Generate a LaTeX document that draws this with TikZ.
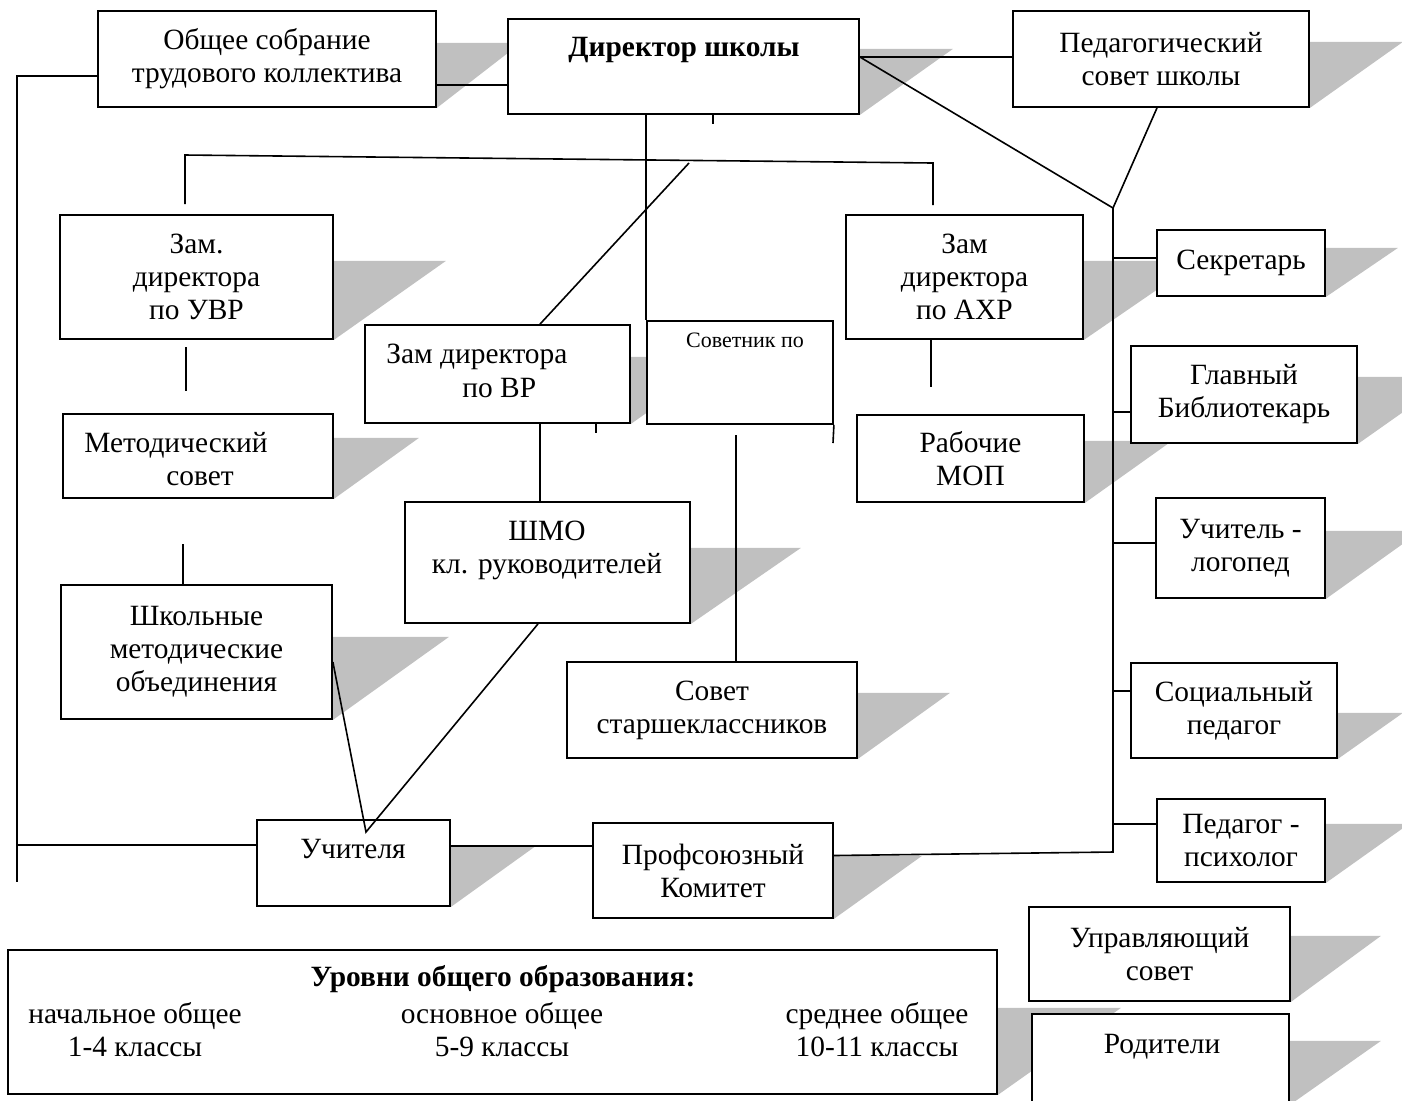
\documentclass[tikz,border=0pt]{standalone}
\usepackage{fontspec}
\setmainfont{Liberation Serif}
\usetikzlibrary{backgrounds}
\definecolor{shadegray}{RGB}{192,192,192}
\newcommand{\orgfont}{\fontsize{14.7}{16.5}\selectfont}
% grey wedge to the right of a box: name, height, width
\newcommand{\boxshade}[3]{\fill[shadegray] (#1.south east) -- ++(0,-#2) -- ++(#3,0) -- cycle;}

\begin{document}
\begin{tikzpicture}[x=0.5pt, y=-0.5pt,
	box/.style={draw, fill=white, line width=0.9pt, inner sep=0pt, align=center, font=\orgfont},
	boxsize/.style 2 args={minimum width=#1pt, minimum height=#2pt},
	lbl/.style={inner sep=0pt, font=\orgfont},
	link/.style={line width=0.8pt}
	]
	\useasboundingbox (0,0) rectangle (1402,1100);
	
	% top row
	\node[box, boxsize={169}{48}] (obsh) at (267,59) {Общее собрание\\трудового коллектива};
	\node[box, boxsize={175.5}{47.5}] (dir) at (683.5,66.5) {};
	\node[lbl, anchor=base] (dirt) at (684,56) {\bfseries Директор школы};
	\node[box, boxsize={148}{48}] (ped) at (1161,59) {Педагогический\\совет школы};
	
	% deputies
	\node[box, boxsize={136.5}{62}] (uvr) at (196.5,277) {Зам.\\директора\\по УВР};
	\node[box, boxsize={118.5}{62}] (ahr) at (964.5,277) {Зам\\директора\\по АХР};
	\node[box, boxsize={132.5}{49}] (vr) at (497.5,374) {};
	\node[lbl, anchor=base west] (vrt1) at (386,363) {Зам директора};
	\node[lbl, anchor=base west] (vrt2) at (462,397) {по ВР};
	\node[box, boxsize={93}{51.5}] (sov) at (740,372.5) {};
	\node[lbl, anchor=base, font=\fontsize{11}{13}\selectfont] (sovt) at (745,347) {Советник по};
	
	% middle
	\node[box, boxsize={135}{42}] (met) at (198,456) {};
	\node[lbl, anchor=base west] (mett1) at (84,452) {Методический};
	\node[lbl, anchor=base west] (mett2) at (166,485) {совет};
	\node[box, boxsize={142.5}{60.5}] (shmo) at (547.5,562.5) {};
	\node[lbl, anchor=base] (shmot1) at (547,540) {ШМО};
	\node[lbl, anchor=base] (shmot2) at (547,573) {кл. руководителей};
	\node[box, boxsize={135.5}{67}] (smo) at (196.5,652) {Школьные\\методические\\объединения};
	\node[box, boxsize={113.5}{43.5}] (rab) at (970.5,458.5) {Рабочие\\МОП};
	\node[box, boxsize={145}{48}] (sst) at (712,710) {Совет\\старшеклассников};
	\node[box, boxsize={96.5}{43}] (uch) at (353.5,863) {};
	\node[lbl, anchor=base] (ucht) at (353,858) {Учителя};
	\node[box, boxsize={120}{47.5}] (prof) at (713,870.5) {Профсоюзный\\Комитет};
	
	% right column
	\node[box, boxsize={84}{33}] (sekr) at (1241,263) {Секретарь};
	\node[box, boxsize={113}{48.5}] (glav) at (1244,394.5) {Главный\\Библиотекарь};
	\node[box, boxsize={84.5}{50}] (logo) at (1240.5,548) {Учитель -\\логопед};
	\node[box, boxsize={103}{47.5}] (socp) at (1234,710.5) {Социальный\\педагог};
	\node[box, boxsize={84}{41.5}] (psy) at (1241,840.5) {Педагог -\\психолог};
	\node[box, boxsize={130.5}{47}] (upr) at (1159.5,954) {Управляющий\\совет};
	\node[box, boxsize={128.5}{45}] (rod) at (1160.5,1059) {};
	\node[lbl, anchor=base] (rodt) at (1162,1053) {Родители};
	
	% levels
	\node[box, boxsize={494.5}{72}] (urov) at (502.5,1022) {};
	\node[lbl, anchor=base] (urovt) at (503,986) {\bfseries Уровни общего образования:};
	\foreach \x/\a/\b [count=\i] in {135/начальное общее/1-4 классы, 502/основное общее/5-9 классы, 877/среднее общее/10-11 классы} {
		\node[lbl, anchor=base] (lev\i a) at (\x,1023) {\a};
		\node[lbl, anchor=base] (lev\i b) at (\x,1056) {\b};
	}
	
	% shadows
	\begin{pgfonlayer}{background}
		\foreach \n/\h/\w in {obsh/65/84, dir/66/93, ped/66/93, uvr/79/112, ahr/79/115, vr/67/95,
			met/61/85, shmo/76/110, smo/83/116, rab/62/87, sst/66/92, uch/61/85, prof/63/88,
			sekr/49/72, glav/67/95, logo/68/95, socp/46/65, psy/59/83, upr/66/90, rod/64/91, urov/87/123}
		{\boxshade{\n}{\h}{\w}}
	\end{pgfonlayer}
	
	% left bus
	\coordinate (lt) at (17,76);
	\coordinate (lm) at (17,845);
	\coordinate (lb) at (17,882);
	\draw[link] (obsh.west |- lt) -- (lt) -- (lb);
	\draw[link] (lm) -- (lm -| uch.west);
	
	% top links
	\coordinate (od) at (470,85);
	\coordinate (dp) at (930,57);
	\draw[link] (obsh.east |- od) -- (dir.west |- od);
	\draw[link] (dir.east |- dp) -- (ped.west |- dp);
	\coordinate (J) at (1113,208);
	\coordinate (rb) at (1113,852);
	\draw[link] (dir.east |- dp) -- (J);
	\draw[link] ([xshift=-2pt]ped.south) -- (J) -- (rb) -- ([yshift=7.5pt]prof.east);
	\foreach \n/\y in {sekr/258, glav/412, logo/543, socp/691, psy/824} {
		\coordinate (b\n) at (1113,\y);
		\draw[link] (b\n) -- (b\n -| \n.west);
	}
	
	% director down
	\coordinate (tk) at (713,124);
	\draw[link] (sov.north west |- dir.south) -- (sov.north west);
	\draw[link] (tk |- dir.south) -- (tk);
	\coordinate (tl) at (185,155);
	\coordinate (tr) at (933,163);
	\coordinate (tld) at (185,204);
	\coordinate (trd) at (933,205);
	\draw[link] (tld) -- (tl) -- (tr) -- (trd);
	\coordinate (dg) at (689,163);
	\draw[link] (dg) -- ([xshift=21.25pt]vr.north);
	
	% vertical ties
	\coordinate (um1) at (186,347);
	\coordinate (um2) at (186,391);
	\draw[link] (um1) -- (um2);
	\coordinate (ms) at (183,544);
	\draw[link] (ms) -- (ms |- smo.north);
	\coordinate (ar) at (931,387);
	\draw[link] (ar |- ahr.south) -- (ar);
	\coordinate (vs) at (540,460);
	\draw[link] (vs |- vr.south) -- (vs |- shmo.north);
	\coordinate (tv) at (596,433);
	\draw[link] (tv |- vr.south) -- (tv);
	\coordinate (se) at (833,443);
	\draw[link] (sov.south east) -- (se);
	\coordinate (sv) at (736,435);
	\draw[link] (sv) -- (sv |- sst.north);
	
	% teachers
	\coordinate (T) at (366,832);
	\draw[link] ([yshift=-5pt]smo.east) -- (T) -- ([xshift=-4.75pt]shmo.south);
	\coordinate (up) at (520,846);
	\draw[link] (uch.east |- up) -- (prof.west |- up);
\end{tikzpicture}
\end{document}
